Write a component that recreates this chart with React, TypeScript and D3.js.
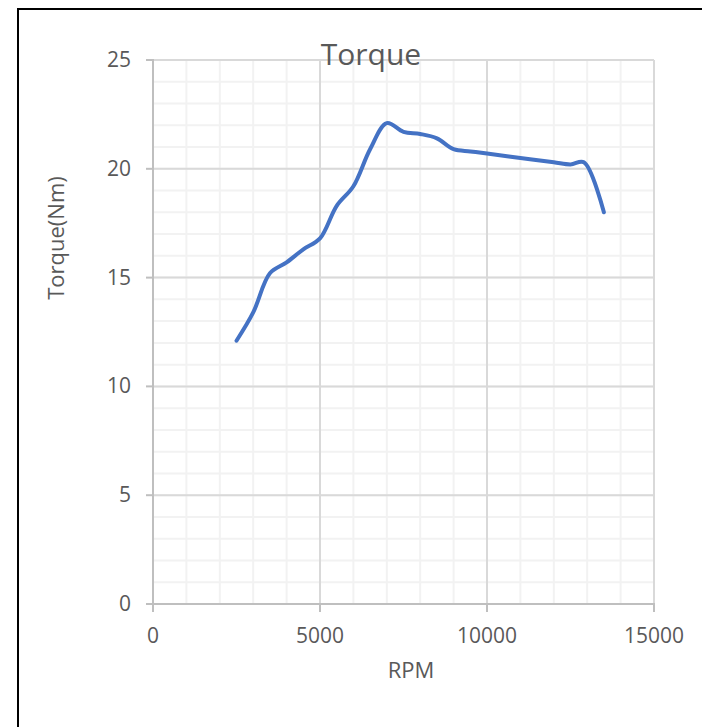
import React from 'react';
import * as d3 from 'd3';

// RPM vs torque
const rpm = [2500, 3000, 3500, 4000, 4500, 5000, 5500, 6000, 6500, 7000, 7500, 8000, 8500, 9000, 9500, 10000, 11000, 12000, 12500, 12900, 13500];
const torque = [12.1, 13.4, 15.2, 15.7, 16.3, 16.8, 18.3, 19.2, 20.9, 22.1, 21.7, 21.6, 21.4, 20.9, 20.8, 20.7, 20.5, 20.3, 20.2, 20.3, 18.0];

const xTicks = [0, 5000, 10000, 15000];
const yTicks = [0, 5, 10, 15, 20, 25];

const width = 702;
const height = 727;
const margin = { top: 60, right: 48, bottom: 123, left: 153 };
const font = "'Open Sans', sans-serif";
const textColor = '#595959';

const App = () => {
  const x = d3.scaleLinear().domain([0, 15000]).range([margin.left, width - margin.right]);
  const y = d3.scaleLinear().domain([0, 25]).range([height - margin.bottom, margin.top]);

  const minorX = d3.range(0, 15001, 1000);
  const minorY = d3.range(0, 26, 1);

  const line = d3.line<number>()
    .x((d, i) => x(rpm[i]))
    .y(d => y(d))
    .curve(d3.curveCatmullRom.alpha(0.5));

  const [x0, x1] = x.range();
  const [y0, y1] = y.range();

  return (
    <svg width={width} height={height} style={{ position: 'absolute', left: 0, top: 0, background: '#fff' }}>
      <rect x={18} y={9} width={700} height={730} fill="#fff" stroke="#000" strokeWidth={2} />

      {/* minor grid */}
      {minorX.map(v => (
        <line key={'mx' + v} x1={x(v)} x2={x(v)} y1={y0} y2={y1} stroke="#f2f2f2" strokeWidth={2} />
      ))}
      {minorY.map(v => (
        <line key={'my' + v} x1={x0} x2={x1} y1={y(v)} y2={y(v)} stroke="#f2f2f2" strokeWidth={2} />
      ))}
      {/* major grid */}
      {xTicks.map(v => (
        <line key={'gx' + v} x1={x(v)} x2={x(v)} y1={y0} y2={y1} stroke="#d9d9d9" strokeWidth={2} />
      ))}
      {yTicks.map(v => (
        <line key={'gy' + v} x1={x0} x2={x1} y1={y(v)} y2={y(v)} stroke="#d9d9d9" strokeWidth={2} />
      ))}

      {/* axes */}
      <line x1={x0} x2={x0} y1={y0 + 1} y2={y1 - 1} stroke="#bfbfbf" strokeWidth={2} />
      <line x1={x0} x2={x1 + 1} y1={y0} y2={y0} stroke="#bfbfbf" strokeWidth={2} />
      {yTicks.map(v => (
        <g key={'yt' + v}>
          <line x1={x0 - 7} x2={x0} y1={y(v)} y2={y(v)} stroke="#bfbfbf" strokeWidth={2} />
          <text x={131} y={y(v) + 7} textAnchor="end" fontFamily={font} fontSize={21} fill={textColor}>{v}</text>
        </g>
      ))}
      {xTicks.map(v => (
        <g key={'xt' + v}>
          <line x1={x(v)} x2={x(v)} y1={y0} y2={y0 + 8} stroke="#bfbfbf" strokeWidth={2} />
          <text x={x(v)} y={643} textAnchor="middle" fontFamily={font} fontSize={21} fill={textColor}>{v}</text>
        </g>
      ))}

      <path d={line(torque) ?? ''} fill="none" stroke="#4472c4" strokeWidth={4} strokeLinecap="round" strokeLinejoin="round" />

      <text x={371} y={65} textAnchor="middle" fontFamily={font} fontSize={30} fill={textColor}>Torque</text>
      <text x={411} y={678} textAnchor="middle" fontFamily={font} fontSize={22} fill={textColor}>RPM</text>
      <text transform="translate(64,238) rotate(-90)" textAnchor="middle" fontFamily={font} fontSize={22} fill={textColor}>Torque(Nm)</text>
    </svg>
  );
};

export default App;
